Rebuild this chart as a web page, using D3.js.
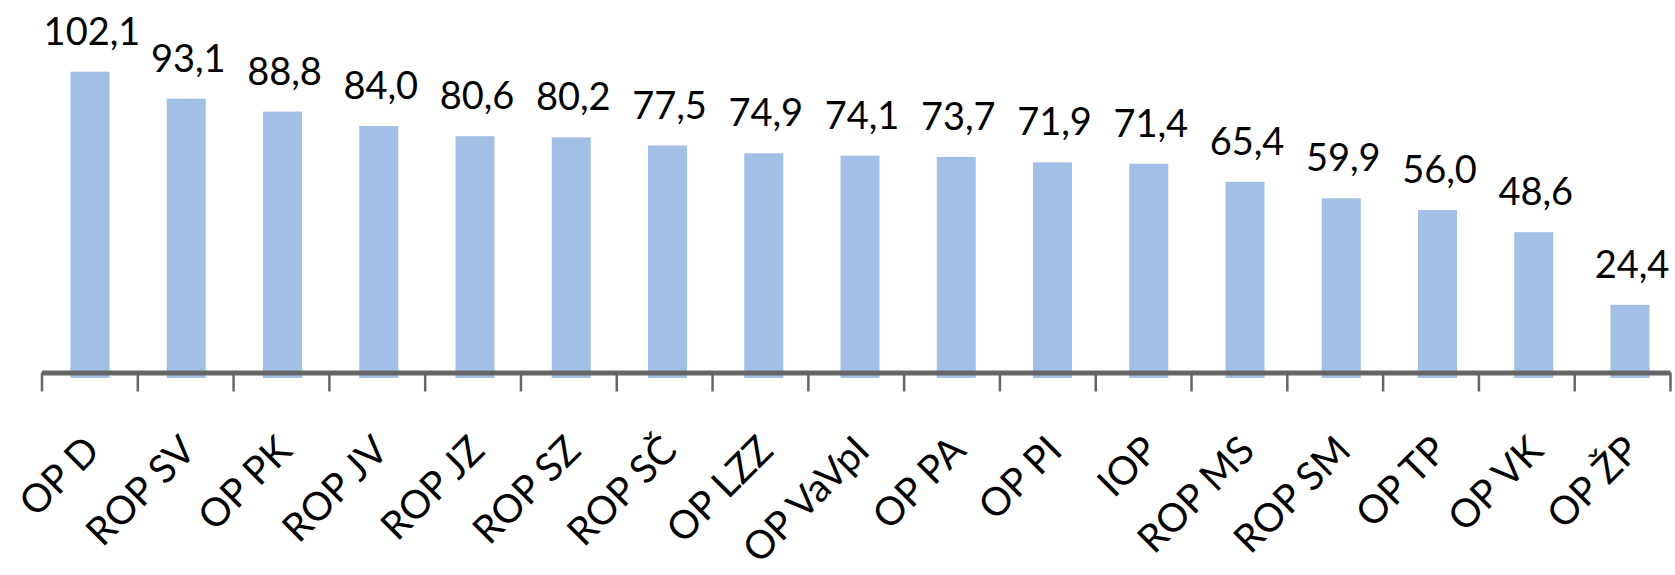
<!DOCTYPE html>
<html>
<head>
<meta charset="utf-8">
<script src="https://cdn.jsdelivr.net/npm/d3@7"></script>
<style>
  html, body { margin: 0; padding: 0; background: #ffffff; }
  svg { display: block; }
  text { font-family: Lato, "Open Sans", sans-serif; fill: #000; }
</style>
</head>
<body>
<svg id="chart" width="1675" height="575"></svg>
<script>
const categories = ["OP D", "ROP SV", "OP PK", "ROP JV", "ROP JZ", "ROP SZ", "ROP SČ", "OP LZZ", "OP VaVpI", "OP PA", "OP PI", "IOP", "ROP MS", "ROP SM", "OP TP", "OP VK", "OP ŽP"];
const values = [102.1, 93.1, 88.8, 84.0, 80.6, 80.2, 77.5, 74.9, 74.1, 73.7, 71.9, 71.4, 65.4, 59.9, 56.0, 48.6, 24.4];
const valueLabels = ["102,1", "93,1", "88,8", "84,0", "80,6", "80,2", "77,5", "74,9", "74,1", "73,7", "71,9", "71,4", "65,4", "59,9", "56,0", "48,6", "24,4"];

const svg = d3.select("#chart");

const y = d3.scaleLinear().domain([0, 126]).range([378, 0]);
// axis divisions (ticks between categories)
const xDiv = d3.scaleLinear().domain([0, categories.length]).range([41.5, 1670]);
// bar centres
const xc = d3.scalePoint().domain(categories).range([90, 1630]);
const barW = 39;

// bars
svg.append("g").selectAll("rect")
  .data(categories)
  .join("rect")
  .attr("x", d => xc(d) - barW / 2)
  .attr("width", barW)
  .attr("y", (d, i) => y(values[i]))
  .attr("height", (d, i) => y(0) - y(values[i]))
  .attr("fill", "#a2c0e5");

// axis
const axis = d3.axisBottom(xDiv)
  .tickValues(d3.range(categories.length + 1))
  .tickFormat("")
  .tickSizeInner(19)
  .tickSizeOuter(0);
const gAxis = svg.append("g")
  .attr("transform", "translate(0,372.5)")
  .call(axis);
gAxis.select(".domain").attr("stroke", "#666").attr("stroke-width", 5);
gAxis.selectAll(".tick line").attr("stroke", "#666").attr("stroke-width", 2.5);

// value labels
svg.append("g").selectAll("text")
  .data(categories)
  .join("text")
  .attr("x", d => xc(d) + 2)
  .attr("y", (d, i) => y(values[i]) - 27)
  .attr("text-anchor", "middle")
  .attr("font-size", 38)
  .text((d, i) => valueLabels[i]);

// category labels
svg.append("g").selectAll("text")
  .data(categories)
  .join("text")
  .attr("transform", d => `translate(${xc(d) + 2},443) rotate(-45)`)
  .attr("text-anchor", "end")
  .attr("dy", "0.35em")
  .attr("font-size", 39)
  .text(d => d);
</script>
</body>
</html>
